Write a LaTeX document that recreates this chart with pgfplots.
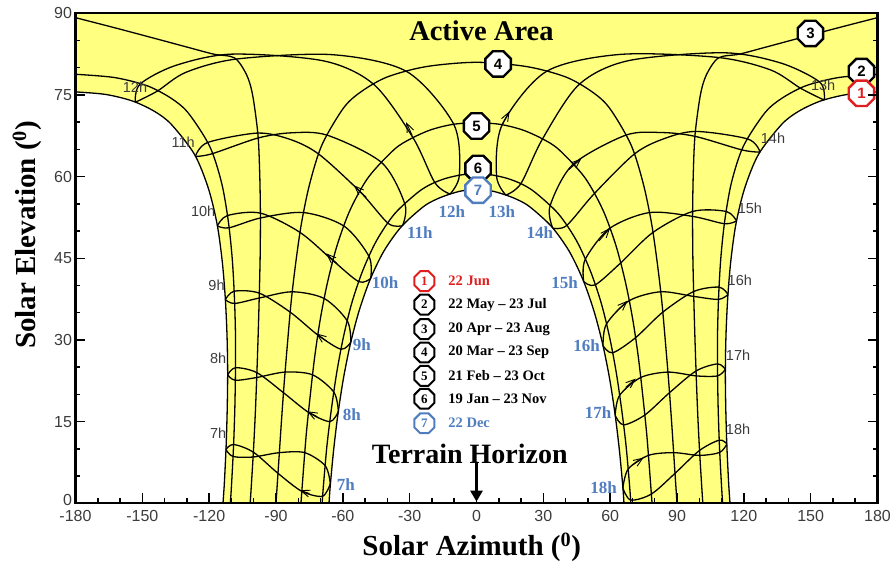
\documentclass[border=0pt]{standalone}
\usepackage{fontspec}
\setmainfont{Liberation Serif}
\setsansfont{Liberation Sans}
\usepackage{pgfplots}
\pgfplotsset{compat=1.18}
\usetikzlibrary{shapes.geometric, arrows.meta}
\definecolor{areaY}{RGB}{255,255,128}
\definecolor{lblue}{RGB}{79,125,192}
\definecolor{lred}{RGB}{224,30,30}
\definecolor{tgray}{RGB}{60,60,60}
\tikzset{
 oct/.style={regular polygon, regular polygon sides=8, draw=black, line width=2.4pt, fill=white,
   minimum size=27.5pt, inner sep=0pt, font=\sffamily\bfseries\fontsize{15}{15}\selectfont},
 loct/.style={regular polygon, regular polygon sides=8, draw=black, line width=2pt, fill=white,
   minimum size=21.5pt, inner sep=0pt, font=\bfseries\fontsize{13}{13}\selectfont},
 bl/.style={font=\sffamily\fontsize{14.5}{14.5}\selectfont, text=tgray, inner sep=0pt},
 bu/.style={font=\bfseries\fontsize{17}{17}\selectfont, text=lblue, inner sep=0pt},
 lg/.style={font=\bfseries\fontsize{14.5}{14.5}\selectfont, anchor=west, inner sep=0pt},
 hr/.style={black, line width=0.9pt, -{Straight Barb[length=9pt,width=7pt,line width=0.9pt]}},
}
\begin{document}
\begin{tikzpicture}
\begin{axis}[
  at={(0,0)}, anchor=south west,
  scale only axis, width=802pt, height=490pt,
  xmin=-180, xmax=180, ymin=0, ymax=90,
  xtick={-180,-150,...,180}, ytick={0,15,...,90},
  yticklabels={\raisebox{6pt}{0},15,30,45,60,75,90},
  minor x tick num=2, minor y tick num=2,
  tick align=inside, xtick pos=left, ytick pos=both, yticklabel pos=left,
  major tick length=10pt, minor tick length=5pt,
  tick style={black, line width=1.5pt},
  axis line style={line width=2.4pt},
  tick label style={font=\sffamily\fontsize{16}{16}\selectfont, text=tgray},
  xticklabel style={yshift=-3pt},
  /pgf/number format/assume math mode=true,
  axis on top,
  xlabel={Solar Azimuth (\textsuperscript{0})},
  xlabel style={font=\bfseries\fontsize{29}{29}\selectfont, at={(axis description cs:0.494,0)}, anchor=center, yshift=-43.7pt},
  ylabel={Solar Elevation (\textsuperscript{0})},
  ylabel style={font=\bfseries\fontsize{29}{29}\selectfont, at={(axis description cs:0,0.548)}, anchor=center, yshift=48.5pt},
  every axis plot/.append style={line width=1.3pt},
]
% active area
\addplot[fill=areaY, draw=none] coordinates {
(-180,90) (180,90) (180,75.56) (166.5,75.1) (154.5,73.9) (144.6,72.0) (137.0,69.6) (126.6,64.1) (120.4,57.9) (116.5,51.4) (114.2,44.7) (112.8,37.9) (112.0,31.0) (111.7,24.1) (111.9,17.3) (112.4,10.4) (113.2,3.6) (113.8,0)
(66.2,0) (65.65,3.2) (64.1,9.9) (62.15,16.5) (59.7,23.0) (56.6,29.3) (52.7,35.35) (47.8,41.05) (41.6,46.3) (33.75,50.8) (24.1,54.4) (18.5,55.75) (12.6,56.7) (6.4,57.4) (0,57.56)
(-6.4,57.4) (-12.6,56.7) (-18.5,55.75) (-24.1,54.4) (-33.75,50.8) (-41.6,46.3) (-47.8,41.05) (-52.7,35.35) (-56.6,29.3) (-59.7,23.0) (-62.15,16.5) (-64.1,9.9) (-65.65,3.2) (-66.2,0)
(-113.8,0) (-113.2,3.6) (-112.4,10.4) (-111.9,17.3) (-111.7,24.1) (-112.0,31.0) (-112.8,37.9) (-114.2,44.7) (-116.5,51.4) (-120.4,57.9) (-126.6,64.1) (-137.0,69.6) (-144.6,72.0) (-154.5,73.9) (-166.5,75.1) (-180,75.56)
} -- cycle;
% day curves
\addplot[smooth, black] coordinates {(-113.8,0) (-113.2,3.6) (-112.4,10.4) (-111.9,17.3) (-111.7,24.1) (-112.0,31.0) (-112.8,37.9) (-114.2,44.7) (-116.5,51.4) (-120.4,57.9) (-126.6,64.1) (-137.0,69.6) (-144.6,72.0) (-154.5,73.9) (-166.5,75.1) (-180,75.56)};
\addplot[smooth, black] coordinates {(113.8,0) (113.2,3.6) (112.4,10.4) (111.9,17.3) (111.7,24.1) (112.0,31.0) (112.8,37.9) (114.2,44.7) (116.5,51.4) (120.4,57.9) (126.6,64.1) (137.0,69.6) (144.6,72.0) (154.5,73.9) (166.5,75.1) (180,75.56)};
\addplot[smooth, black] coordinates {(-110.5,0) (-110.0,3.1) (-109.1,10.1) (-108.5,17.1) (-108.2,24.1) (-108.2,31.2) (-108.7,38.2) (-109.7,45.2) (-111.5,52.1) (-114.5,59.0) (-119.8,65.6) (-129.4,71.7) (-137.1,74.4) (-147.9,76.7) (-162.5,78.2) (-180,78.8)};
\addplot[smooth, black] coordinates {(110.5,0) (110.0,3.1) (109.1,10.1) (108.5,17.1) (108.2,24.1) (108.2,31.2) (108.7,38.2) (109.7,45.2) (111.5,52.1) (114.5,59.0) (119.8,65.6) (129.4,71.7) (137.1,74.4) (147.9,76.7) (162.5,78.2) (180,78.8)};
\addplot[smooth, black] coordinates {(-101.6,0) (-101.3,1.8) (-100.2,9.1) (-99.3,16.4) (-98.6,23.7) (-98.0,31.0) (-97.5,38.3) (-97.1,45.7) (-97.0,53.0) (-97.3,60.4) (-98.1,67.7) (-100.5,75.0) (-103.2,78.7) (-108.6,81.8) (-118,82.5) (-130,83.8) (-143.6,85.3) (-162,87.3) (-180,89.2)};
\addplot[smooth, black] coordinates {(101.6,0) (101.3,1.8) (100.2,9.1) (99.3,16.4) (98.6,23.7) (98.0,31.0) (97.5,38.3) (97.1,45.7) (97.0,53.0) (97.3,60.4) (98.1,67.7) (100.5,75.0) (103.2,78.7) (108.6,81.8) (118,82.5) (130,83.8) (143.6,85.3) (162,87.3) (180,89.2)};
\addplot[smooth, black] coordinates {(-90,0) (-88.8,7.4) (-87.6,14.8) (-86.3,22.2) (-84.8,29.6) (-83.2,37.0) (-81.1,44.3) (-78.5,51.6) (-74.8,58.8) (-69.3,65.9) (-59.7,72.6) (-51.8,75.6) (-40.1,78.3) (-22.7,80.2) (0,81.0) (22.7,80.2) (40.1,78.3) (51.8,75.6) (59.7,72.6) (69.3,65.9) (74.8,58.8) (78.5,51.6) (81.1,44.3) (83.2,37.0) (84.8,29.6) (86.3,22.2) (87.6,14.8) (88.8,7.4) (90,0)};
\addplot[smooth, black] coordinates {(-78.8,0) (-77.8,5.5) (-76.4,12.75) (-74.6,19.9) (-72.6,27.0) (-70.0,34.1) (-66.7,40.9) (-62.4,47.6) (-56.6,54.0) (-48.5,59.9) (-36.9,65.0) (-29.3,67.0) (-20.5,68.6) (-10.6,69.6) (0,69.9) (10.6,69.6) (20.5,68.6) (29.3,67.0) (36.9,65.0) (48.5,59.9) (56.6,54.0) (62.4,47.6) (66.7,40.9) (70.0,34.1) (72.6,27.0) (74.6,19.9) (76.4,12.75) (77.8,5.5) (78.8,0)};
\addplot[smooth, black] coordinates {(-69.3,0) (-68.6,3.8) (-67.1,10.7) (-65.1,17.4) (-62.7,24.1) (-59.7,30.6) (-55.9,36.9) (-51.0,42.8) (-44.8,48.3) (-36.7,53.2) (-26.5,57.05) (-20.5,58.6) (-14.0,59.65) (-7.1,60.3) (0,60.55) (7.1,60.3) (14.0,59.65) (20.5,58.6) (26.5,57.05) (36.7,53.2) (44.8,48.3) (51.0,42.8) (55.9,36.9) (59.7,30.6) (62.7,24.1) (65.1,17.4) (67.1,10.7) (68.6,3.8) (69.3,0)};
\addplot[smooth, black] coordinates {(-66.2,0) (-65.65,3.2) (-64.1,9.9) (-62.15,16.5) (-59.7,23.0) (-56.6,29.3) (-52.7,35.35) (-47.8,41.05) (-41.6,46.3) (-33.75,50.8) (-24.1,54.4) (-18.5,55.75) (-12.6,56.7) (-6.4,57.4) (0,57.56) (6.4,57.4) (12.6,56.7) (18.5,55.75) (24.1,54.4) (33.75,50.8) (41.6,46.3) (47.8,41.05) (52.7,35.35) (56.6,29.3) (59.7,23.0) (62.15,16.5) (64.1,9.9) (65.65,3.2) (66.2,0)};
% hour lines (two strands each)
\addplot[smooth, black] coordinates {(-65.6,3.6) (-69.1,1.3) (-78.4,2.2) (-89.1,5.5) (-100.2,9.4) (-109.0,10.8) (-112.5,9.9)};
\addplot[smooth, black] coordinates {(-112.5,9.9) (-109.3,8.6) (-100.3,8.5) (-88.5,9.3) (-77.1,9.3) (-67.9,6.9) (-65.6,3.6)};
\addplot[smooth, black] coordinates {(-62.0,16.85) (-65.8,15.0) (-75.4,16.7) (-86.6,20.3) (-98.6,24.0) (-108.2,24.9) (-111.7,23.6)};
\addplot[smooth, black] coordinates {(-111.7,23.6) (-108.3,22.6) (-98.7,23.1) (-85.9,24.1) (-73.6,23.6) (-64.0,20.4) (-62.0,16.85)};
\addplot[smooth, black] coordinates {(-56.4,29.6) (-60.8,28.3) (-71.2,30.9) (-83.6,35.1) (-97.5,38.6) (-108.8,38.95) (-112.75,37.4)};
\addplot[smooth, black] coordinates {(-112.75,37.4) (-108.6,36.7) (-97.5,37.7) (-82.7,38.85) (-68.3,37.6) (-58.0,33.5) (-56.4,29.6)};
\addplot[smooth, black] coordinates {(-47.5,41.3) (-52.8,40.7) (-64.35,44.55) (-79.2,49.75) (-97.0,53.3) (-111.8,52.85) (-116.35,50.95)};
\addplot[smooth, black] coordinates {(-116.35,50.95) (-111.1,50.6) (-97.0,52.4) (-77.6,53.4) (-59.4,50.9) (-48.2,45.3) (-47.5,41.3)};
\addplot[smooth, black] coordinates {(-33.2,51.0) (-39.6,51.4) (-52.2,57.2) (-70.7,64.1) (-83.4,66.8) (-98.2,68.0) (-120.8,66.25) (-126.2,63.7)};
\addplot[smooth, black] coordinates {(-126.2,63.7) (-118.7,64.2) (-98.0,67.1) (-83.0,68.05) (-66.9,67.6) (-42.5,62.55) (-32.1,54.9) (-33.2,51.0)};
\addplot[smooth, black] coordinates {(-11.9,56.8) (-18.7,58.9) (-28.5,67.15) (-46.0,76.9) (-68.5,81.25) (-109.8,82.5) (-135.2,80.4) (-151.0,77.0) (-153.2,73.65)};
\addplot[smooth, black] coordinates {(-153.2,73.65) (-143.3,75.7) (-130.5,79.15) (-107.7,81.6) (-64.75,82.4) (-31.3,79.3) (-10.2,69.6) (-7.7,60.25) (-11.9,56.8)};
\addplot[smooth, black] coordinates {(13.2,56.6) (9.0,60.1) (11.5,69.5) (31.3,79.3) (64.5,82.45) (108.2,81.9) (132.0,79.6) (145.6,76.2) (156.1,74.05)};
\addplot[smooth, black] coordinates {(156.1,74.05) (154.1,77.35) (136.7,80.85) (110.95,82.75) (68.2,81.3) (46.0,76.9) (29.6,66.9) (19.9,58.7) (13.2,56.6)};
\addplot[smooth, black] coordinates {(34.2,50.55) (33.0,54.6) (43.2,62.2) (66.9,67.6) (83.0,68.1) (98.1,67.4) (119.2,64.9) (127.3,64.5)};
\addplot[smooth, black] coordinates {(127.3,64.5) (121.85,66.9) (98.3,68.3) (83.4,66.85) (70.7,64.1) (52.7,56.8) (40.4,51.0) (34.2,50.55)};
\addplot[smooth, black] coordinates {(48.1,40.75) (48.8,44.8) (59.8,50.5) (77.6,53.4) (97.0,52.7) (111.3,51.35) (116.75,51.85)};
\addplot[smooth, black] coordinates {(116.75,51.85) (112.1,53.6) (97.0,53.6) (79.2,49.75) (64.6,44.1) (53.2,40.1) (48.1,40.75)};
\addplot[smooth, black] coordinates {(56.8,28.95) (58.3,32.9) (68.5,37.2) (82.7,38.85) (97.5,38.0) (108.65,37.45) (112.9,38.35)};
\addplot[smooth, black] coordinates {(112.9,38.35) (108.9,39.7) (97.5,38.9) (83.6,35.1) (71.35,30.4) (61.1,27.65) (56.8,28.95)};
\addplot[smooth, black] coordinates {(62.25,16.15) (64.2,19.8) (73.7,23.1) (85.9,24.1) (98.6,23.4) (108.2,23.4) (111.7,24.6)};
\addplot[smooth, black] coordinates {(111.7,24.6) (108.2,25.6) (98.55,24.3) (86.6,20.3) (75.5,16.2) (66.0,14.4) (62.25,16.15)};
\addplot[smooth, black] coordinates {(65.7,2.8) (68.1,6.3) (77.2,8.8) (88.5,9.3) (100.2,8.8) (109.2,9.35) (112.4,10.9)};
\addplot[smooth, black] coordinates {(112.4,10.9) (109.0,11.6) (100.1,9.7) (89.1,5.5) (78.5,1.7) (69.2,0.6) (65.7,2.8)};
% direction arrows on the hour lines
\addplot[hr] coordinates {(-75.0,1.8) (-79.3,2.4)};
\addplot[hr] coordinates {(-71.5,15.9) (-76.0,16.9)};
\addplot[hr] coordinates {(-67.0,29.7) (-72.0,31.2)};
\addplot[hr] coordinates {(-62.5,44.0) (-67.5,45.9)};
\addplot[hr] coordinates {(-49.5,56.2) (-55.0,58.4)};
\addplot[hr] coordinates {(-28.9,67.6) (-31.6,70.0)};
\addplot[hr] coordinates {(11.5,69.5) (14.8,72.0)};
\addplot[hr] coordinates {(41.5,61.3) (47.0,63.3)};
\addplot[hr] coordinates {(55.0,48.2) (60.0,50.6)};
\addplot[hr] coordinates {(63.0,35.3) (67.8,37.2)};
\addplot[hr] coordinates {(67.0,21.3) (71.5,22.9)};
\addplot[hr] coordinates {(70.0,7.0) (75.0,8.4)};
% terrain horizon arrow
\addplot[line width=2.6pt, -{Triangle[width=12pt,length=11pt]}] coordinates {(0,7.4) (0,0.3)};
% markers on curves
\addplot[draw=none, mark=none] coordinates {(149.9,86.3)} node[oct] {3};
\addplot[draw=none, mark=none] coordinates {(172.8,79.3)} node[oct] {2};
\addplot[draw=none, mark=none] coordinates {(172.8,75.3)} node[oct, draw=lred, text=lred] {1};
\addplot[draw=none, mark=none] coordinates {(9.7,80.7)} node[oct] {4};
\addplot[draw=none, mark=none] coordinates {(0,69.3)} node[oct] {5};
\addplot[draw=none, mark=none] coordinates {(0.7,61.5)} node[oct] {6};
\addplot[draw=none, mark=none] coordinates {(0.7,57.5)} node[oct, draw=lblue, text=lblue] {7};
% legend markers
\addplot[draw=none, mark=none] coordinates {(-23.4,40.8)} node[loct, draw=lred, text=lred] {1};
\addplot[draw=none, mark=none] coordinates {(-23.4,36.5)} node[loct] {2};
\addplot[draw=none, mark=none] coordinates {(-23.4,32.0)} node[loct] {3};
\addplot[draw=none, mark=none] coordinates {(-23.4,27.7)} node[loct] {4};
\addplot[draw=none, mark=none] coordinates {(-23.4,23.4)} node[loct] {5};
\addplot[draw=none, mark=none] coordinates {(-23.4,19.2)} node[loct] {6};
\addplot[draw=none, mark=none] coordinates {(-23.4,14.7)} node[loct, draw=lblue, text=lblue] {7};
% legend texts
\node[lg, text=lred] at (axis cs:-12.7,40.8) {22 Jun};
\node[lg] at (axis cs:-12.7,36.5) {22 May -- 23 Jul};
\node[lg] at (axis cs:-12.7,32.0) {20 Apr -- 23 Aug};
\node[lg] at (axis cs:-12.7,27.7) {20 Mar -- 23 Sep};
\node[lg] at (axis cs:-12.7,23.4) {21 Feb -- 23 Oct};
\node[lg] at (axis cs:-12.7,19.2) {19 Jan -- 23 Nov};
\node[lg, text=lblue] at (axis cs:-12.7,14.7) {22 Dec};
% titles
\node[font=\bfseries\fontsize{28.5}{28.5}\selectfont] at (axis cs:2.2,86.8) {Active Area};
\node[font=\bfseries\fontsize{28}{28}\selectfont] at (axis cs:-3.0,9.0) {Terrain Horizon};
% black hour labels (June)
\node[bl] at (axis cs:-153.3,76.4) {12h};
\node[bl] at (axis cs:-131.7,66.4) {11h};
\node[bl] at (axis cs:-122.7,53.7) {10h};
\node[bl] at (axis cs:-116.7,40.1) {9h};
\node[bl] at (axis cs:-116.0,26.6) {8h};
\node[bl] at (axis cs:-116.0,12.9) {7h};
\node[bl] at (axis cs:155.6,76.8) {13h};
\node[bl] at (axis cs:133.1,67.0) {14h};
\node[bl] at (axis cs:122.7,54.2) {15h};
\node[bl] at (axis cs:118.2,41.0) {16h};
\node[bl] at (axis cs:117.4,27.2) {17h};
\node[bl] at (axis cs:117.4,13.6) {18h};
% blue hour labels (December)
\node[bu] at (axis cs:-11.1,53.5) {12h};
\node[bu] at (axis cs:11.4,53.5) {13h};
\node[bu] at (axis cs:-25.4,49.8) {11h};
\node[bu] at (axis cs:28.4,49.8) {14h};
\node[bu] at (axis cs:-41.0,40.5) {10h};
\node[bu] at (axis cs:39.6,40.5) {15h};
\node[bu] at (axis cs:-51.5,29.1) {9h};
\node[bu] at (axis cs:49.4,28.9) {16h};
\node[bu] at (axis cs:-56.0,16.2) {8h};
\node[bu] at (axis cs:54.6,16.6) {17h};
\node[bu] at (axis cs:-58.7,3.5) {7h};
\node[bu] at (axis cs:57.1,2.8) {18h};
\end{axis}
\pgfresetboundingbox
\path[use as bounding box] ([shift={(-75.5pt,-59.7pt)}]current axis.south west) rectangle ([shift={(13.5pt,13.3pt)}]current axis.north east);
\end{tikzpicture}
\end{document}
